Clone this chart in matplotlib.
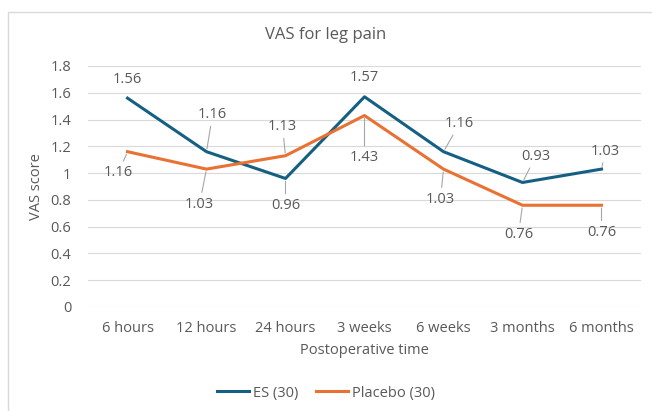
import matplotlib.pyplot as plt
from matplotlib.patches import Rectangle

plt.rcParams['font.family'] = ['Open Sans', 'DejaVu Sans']

# Données
categories = ['6 hours', '12 hours', '24 hours', '3 weeks', '6 weeks', '3 months', '6 months']
es_values = [1.56, 1.16, 0.96, 1.57, 1.16, 0.93, 1.03]
placebo_values = [1.16, 1.03, 1.13, 1.43, 1.03, 0.76, 0.76]
y_ticks = [0, 0.2, 0.4, 0.6, 0.8, 1, 1.2, 1.4, 1.6, 1.8]

# Décalage des étiquettes (pixels) et présence d'une ligne de repère
es_offsets = [(0, 19), (6, 37), (0, -27), (0, 19), (16, 28), (13, 26), (4, 18)]
es_leader = [False, True, True, False, True, True, True]
placebo_offsets = [(-9, -21), (-7, -35), (-3, 29), (0, -42), (-3, -30), (-4, -29), (0, -27)]
placebo_leader = [True, True, True, True, True, True, True]

es_color = '#156082'
placebo_color = '#E97132'
text_color = '#595959'
grid_color = '#D9D9D9'
fs = 10.5

fig = plt.figure(figsize=(6.52, 4.11), dpi=100)
ax = fig.add_axes([88 / 652, 1 - 307 / 411, (641 - 88) / 652, (307 - 66) / 411])

x = list(range(len(categories)))
ax.plot(x, es_values, color=es_color, lw=2.2, label='ES (30)', solid_joinstyle='round')
ax.plot(x, placebo_values, color=placebo_color, lw=2.2, label='Placebo (30)', solid_joinstyle='round')


def add_labels(values, offsets, leaders):
    for i, v in enumerate(values):
        props = dict(arrowstyle='-', color='#A6A6A6', lw=0.8, shrinkA=1, shrinkB=2) if leaders[i] else None
        ax.annotate(f'{v:.2f}', xy=(i, v), xytext=offsets[i], textcoords='offset pixels',
                    ha='center', va='center', fontsize=fs, color=text_color, arrowprops=props)


add_labels(es_values, es_offsets, es_leader)
add_labels(placebo_values, placebo_offsets, placebo_leader)

ax.set_xlim(-0.5, len(categories) - 0.5)
ax.set_ylim(0, 1.8)
ax.set_yticks(y_ticks)
ax.set_yticklabels([f'{t:g}' for t in y_ticks])
ax.set_xticks(x)
ax.set_xticklabels(categories)
ax.tick_params(length=0, colors=text_color, labelsize=fs)
ax.tick_params(axis='y', pad=12)
ax.tick_params(axis='x', pad=10)
for s in ax.spines.values():
    s.set_visible(False)
ax.yaxis.grid(True, color=grid_color, lw=0.8)
ax.set_axisbelow(True)

ax.set_xlabel('Postoperative time', color=text_color, fontsize=fs, labelpad=5)
ax.set_ylabel('VAS score', color=text_color, fontsize=fs, labelpad=5)
fig.text(0.5, 1 - 35 / 411, 'VAS for leg pain', ha='center', va='center', fontsize=12, color=text_color)

fig.legend(loc='center', bbox_to_anchor=(0.5, 1 - 393 / 411), ncol=2, frameon=False,
           fontsize=fs, labelcolor=text_color, handlelength=2.2, handletextpad=0.3, columnspacing=1.2)

# Cadre du graphique
fig.patches.append(Rectangle((8 / 652, -0.05), 1.0, 1 - 12 / 411 + 0.05, transform=fig.transFigure,
                             fill=False, edgecolor=grid_color, lw=1))

plt.savefig('out.png', dpi=100)
